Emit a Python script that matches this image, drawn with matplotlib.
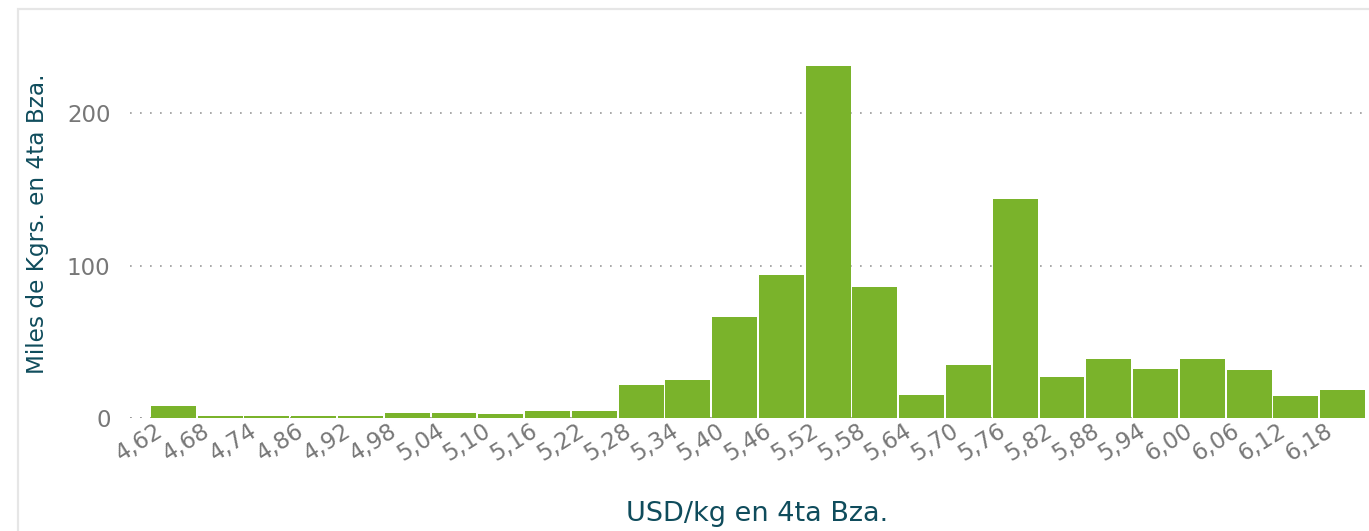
import matplotlib.pyplot as plt
from matplotlib.patches import Rectangle
from matplotlib.transforms import ScaledTranslation

# precios (USD/kg) y volumen en miles de kg
precios = ["4,62", "4,68", "4,74", "4,86", "4,92", "4,98", "5,04", "5,10", "5,16",
           "5,22", "5,28", "5,34", "5,40", "5,46", "5,52", "5,58", "5,64", "5,70",
           "5,76", "5,82", "5,88", "5,94", "6,00", "6,06", "6,12", "6,18"]
miles_kg = [8, 1.5, 1.5, 1.5, 1.5, 3.5, 3, 2.5, 4.5, 4.5, 21.5, 25, 66, 94, 231,
            86, 15, 35, 144, 27, 39, 32, 39, 31.5, 14.5, 18.5]
y_ticks = [0, 100, 200]

W, H = 1369, 531
fig = plt.figure(figsize=(W / 100, H / 100), dpi=100)

# marco gris claro del contenedor
fig.patches.append(Rectangle((18 / W, -0.1), 1.2, 1 - 9 / H + 0.1, transform=fig.transFigure,
                             fill=False, edgecolor="#e6e6e6", linewidth=1.6))

ax = fig.add_axes([130 / W, (H - 418) / H, (W - 130) / W, (418 - 37) / H])

x = range(len(precios))
ax.bar(x, miles_kg, width=0.96, color="#7ab32b", zorder=3)

ax.set_xlim(-0.5 - 20 / 46.77, 25.5 + 3 / 46.77)
ax.set_ylim(0, 250)
ax.set_yticks(y_ticks)
ax.set_yticklabels([str(v) for v in y_ticks])
ax.yaxis.grid(True, color="#999999", linestyle=(0, (1, 5)), linewidth=1.2, zorder=0)
ax.axhline(0, color="#999999", linestyle=(0, (1, 5)), linewidth=1.2, zorder=1)

ax.set_xticks(list(x))
ax.set_xticklabels(precios, rotation=32, ha="right", va="top", rotation_mode="anchor")
ax.tick_params(axis="x", length=0, pad=1, labelsize=16.5, labelcolor="#777777")
ax.tick_params(axis="y", length=0, pad=14, labelsize=16.5, labelcolor="#777777")
# etiquetas corridas a la izquierda del centro de la barra
off = ScaledTranslation(-18 / 100, 0, fig.dpi_scale_trans)
for lbl in ax.get_xticklabels():
    lbl.set_transform(lbl.get_transform() + off)

for s in ax.spines.values():
    s.set_visible(False)

fig.text(38 / W, 1 - 224 / H, "Miles de Kgrs. en 4ta Bza.", rotation=90,
         ha="center", va="center", fontsize=16.7, color="#0f4c5c")
fig.text(757 / W, 1 - 514 / H, "USD/kg en 4ta Bza.", ha="center", va="center",
         fontsize=19.5, color="#0f4c5c")

fig.savefig("out.png", dpi=100)
